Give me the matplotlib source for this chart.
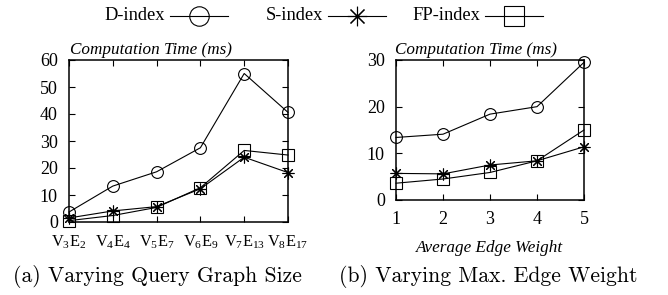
import matplotlib
matplotlib.use("Agg")
import matplotlib.pyplot as plt
from matplotlib.lines import Line2D

plt.rcParams['font.family'] = ['Liberation Serif', 'DejaVu Serif']
plt.rcParams['mathtext.fontset'] = 'custom'
plt.rcParams['mathtext.rm'] = 'Liberation Serif'
plt.rcParams['mathtext.it'] = 'Liberation Serif:italic'

# ---- data ----
sizes = [r'V$_3$E$_2$', r'V$_4$E$_4$', r'V$_5$E$_7$', r'V$_6$E$_9$', r'V$_7$E$_{13}$', r'V$_8$E$_{17}$']
d_size = [3.7, 13.3, 18.6, 27.5, 55.0, 40.6]
s_size = [1.5, 4.1, 5.7, 12.3, 24.0, 18.3]
fp_size = [0.5, 2.4, 5.4, 12.7, 26.5, 24.8]

weights = [1, 2, 3, 4, 5]
d_w = [13.4, 14.1, 18.4, 20.0, 29.5]
s_w = [5.7, 5.6, 7.5, 8.4, 11.4]
fp_w = [3.6, 4.5, 5.9, 8.4, 15.0]

series_names = ['D-index', 'S-index', 'FP-index']
markers = ['o', (8, 2, 0), 's']

W, H = 668, 295
fig = plt.figure(figsize=(W/100, H/100), dpi=100)
ax1 = fig.add_axes([69/W, 1-222/H, 219/W, 162/H])
ax2 = fig.add_axes([396/W, 1-200/H, 188/W, 140/H])

TICK_FS = 13

def style(ax):
    for sp in ax.spines.values():
        sp.set_linewidth(1.1)
    ax.tick_params(direction='in', top=True, right=True, length=4, width=0.8,
                   labelsize=TICK_FS)
    ax.tick_params(axis='y', pad=8)
    ax.tick_params(axis='x', pad=8)

lw = 0.8
ms = 8.5
kw = dict(color='black', lw=lw, markersize=ms, markerfacecolor='none',
          markeredgecolor='black', markeredgewidth=0.8, clip_on=False)

xs = list(range(len(sizes)))
for vals, m in zip([d_size, s_size, fp_size], markers):
    ax1.plot(xs, vals, marker=m, **kw)
ax1.set_xlim(0, len(sizes) - 1)
ax1.set_ylim(0, 60)
ax1.set_xticks(xs)
ax1.set_xticklabels(sizes)
ax1.set_yticks([0, 10, 20, 30, 40, 50, 60])
style(ax1)
ax1.tick_params(axis='x', labelsize=11.8, pad=8.5)

for vals, m in zip([d_w, s_w, fp_w], markers):
    ax2.plot(weights, vals, marker=m, **kw)
ax2.set_xlim(1, 5)
ax2.set_ylim(0, 30)
ax2.set_xticks(weights)
ax2.set_yticks([0, 10, 20, 30])
style(ax2)

fig.text(70/W, 1-50/H, 'Computation Time (ms)', style='italic', fontsize=12.3,
         ha='left', va='center')
fig.text(395/W, 1-50/H, 'Computation Time (ms)', style='italic', fontsize=12.3,
         ha='left', va='center')

fig.text(490/W, 1-248/H, 'Average Edge Weight', style='italic', fontsize=12.3,
         ha='center', va='center')

fig.text(157.5/W, 1-277/H, '(a) Varying Query Graph Size', family='cmr10',
         fontsize=15.6, ha='center', va='center')
fig.text(488/W, 1-277/H, '(b) Varying Max. Edge Weight', family='cmr10',
         fontsize=15.6, ha='center', va='center')

# legend (gnuplot style: text right-aligned, then line sample with marker)
text_right = [165, 323, 480]
handle_len = 58
ly = 1 - 16/H
for name, m, xr in zip(series_names, markers, text_right):
    fig.text(xr/W, ly, name, fontsize=13.3, ha='right', va='center')
    x0 = (xr + 5)/W
    x1 = (xr + 5 + handle_len)/W
    fig.add_artist(Line2D([x0, x1], [ly, ly], transform=fig.transFigure,
                          color='black', lw=lw))
    fig.add_artist(Line2D([(x0+x1)/2], [ly], transform=fig.transFigure,
                          marker=m, markersize=14, markerfacecolor='none',
                          markeredgecolor='black', markeredgewidth=0.8, lw=0))

fig.savefig('out.png', dpi=100)
